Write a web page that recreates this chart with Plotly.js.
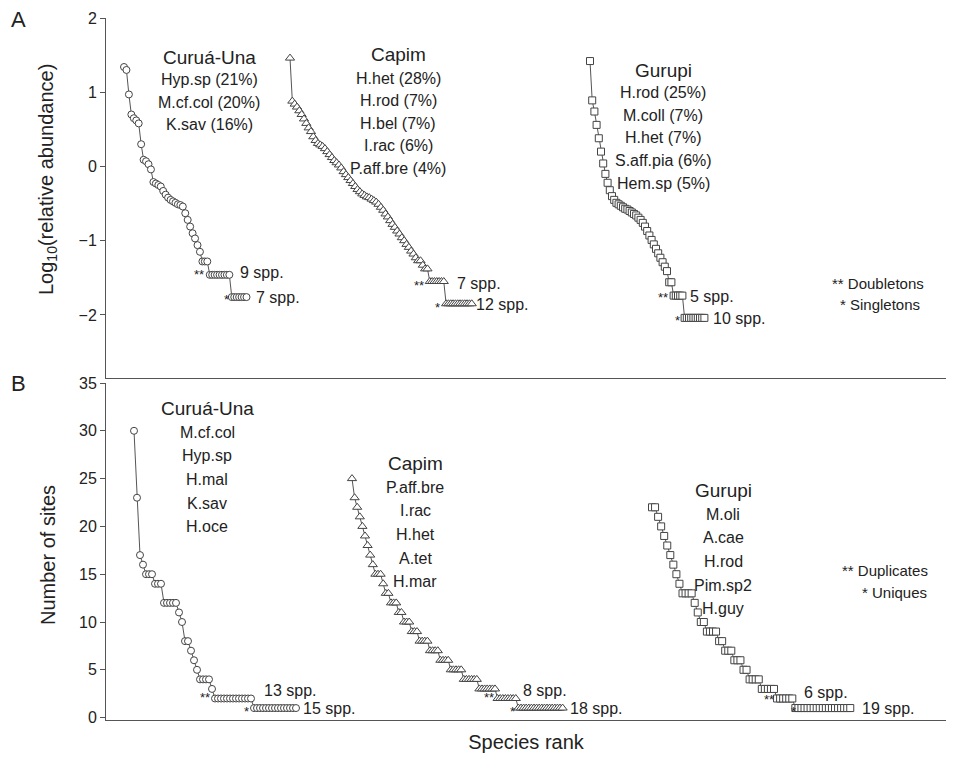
<!DOCTYPE html>
<html><head><meta charset="utf-8">
<script src="https://cdn.plot.ly/plotly-3.0.1.min.js"></script>
<style>body{margin:0;background:#fff}#c{width:956px;height:766px}</style>
</head><body><div id="c"></div>
<script>
// ---- Data: panel A, log10(relative abundance, %) by species rank ----
const abundCurua = [1.34,1.30,0.97,0.70,0.65,0.62,0.58,0.30,0.09,0.07,0.03,-0.04,-0.21,-0.23,-0.25,-0.27,-0.33,-0.38,-0.42,-0.45,-0.47,-0.49,-0.51,-0.52,-0.54,-0.63,-0.72,-0.81,-0.90,-0.97,-1.06,-1.15,-1.28,-1.28,-1.28,
  -1.46,-1.46,-1.46,-1.46,-1.46,-1.46,-1.46,-1.46,-1.46, -1.76,-1.76,-1.76,-1.76,-1.76,-1.76,-1.76];
const abundCapim = [1.46,0.88,0.84,0.80,0.75,0.70,0.64,0.58,0.52,0.47,0.40,0.35,0.31,0.29,0.27,0.24,0.20,0.16,0.12,0.08,0.05,0.02,-0.02,-0.07,-0.11,-0.15,-0.19,-0.23,-0.27,-0.31,-0.34,-0.37,-0.39,-0.41,-0.42,-0.44,-0.46,-0.48,-0.51,-0.55,-0.59,-0.64,-0.68,-0.73,-0.78,-0.82,-0.87,-0.91,-0.96,-1.00,-1.05,-1.09,-1.14,-1.18,-1.23,-1.27,-1.27,-1.33,-1.38,-1.38,
  -1.55,-1.55,-1.55,-1.55,-1.55,-1.55,-1.55, -1.85,-1.85,-1.85,-1.85,-1.85,-1.85,-1.85,-1.85,-1.85,-1.85,-1.85,-1.85];
const abundGurupi = [1.42,0.89,0.74,0.56,0.38,0.20,0.04,-0.10,-0.22,-0.32,-0.40,-0.45,-0.49,-0.51,-0.53,-0.55,-0.57,-0.58,-0.60,-0.62,-0.64,-0.66,-0.69,-0.72,-0.76,-0.81,-0.87,-0.93,-0.99,-1.05,-1.11,-1.17,-1.23,-1.29,-1.35,-1.41,-1.56,-1.56,
  -1.74,-1.74,-1.74,-1.74,-1.74, -2.04,-2.04,-2.04,-2.04,-2.04,-2.04,-2.04,-2.04,-2.04,-2.04];
// ---- Data: panel B, number of sites by species rank ----
const sitesCurua = [30,23,17,16,15,15,15,14,14,14,12,12,12,12,12,11,10,8,8,7,6,5,4,4,4,4,3,
  2,2,2,2,2,2,2,2,2,2,2,2,2, 1,1,1,1,1,1,1,1,1,1,1,1,1,1,1];
const sitesCapim = [25,23,22,21,20,19,18,17,16,15,15,15,14,13,13,12,12,12,11,11,10,10,10,9,9,9,8,8,8,8,7,7,7,7,6,6,6,6,5,5,5,5,5,4,4,4,4,4,4,3,3,3,3,3,3,3,
  2,2,2,2,2,2,2,2, 1,1,1,1,1,1,1,1,1,1,1,1,1,1,1,1,1,1];
const sitesGurupi = [22,22,21,20,19,18,17,16,15,14,13,13,13,13,12,11,10,10,9,9,9,9,8,8,7,7,7,6,6,6,5,5,4,4,4,4,3,3,3,3,3,
  2,2,2,2,2,2, 1,1,1,1,1,1,1,1,1,1,1,1,1,1,1,1,1,1,1];

const sites = ["Curuá-Una","Capim","Gurupi"];
const listA = [["Hyp.sp (21%)","M.cf.col (20%)","K.sav (16%)"],
               ["H.het (28%)","H.rod (7%)","H.bel (7%)","I.rac (6%)","P.aff.bre (4%)"],
               ["H.rod (25%)","M.coll (7%)","H.het (7%)","S.aff.pia (6%)","Hem.sp (5%)"]];
const listB = [["M.cf.col","Hyp.sp","H.mal","K.sav","H.oce"],
               ["P.aff.bre","I.rac","H.het","A.tet","H.mar"],
               ["M.oli","A.cae","H.rod","Pim.sp2","H.guy"]];
const doubA = [9,7,5], singA = [7,12,10];
const dupB = [13,8,6], uniqB = [15,18,19];

// ---- layout geometry (pixels) ----
const W=956,H=766,L=106,R=946,T=18,B=720;
const PW=R-L, PH=B-T;
const px = x => (x-L)/PW, py = y => (B-y)/PH;
const FONT = "Arial, 'Liberation Sans', sans-serif";
const INK = "#222", LINE="#555", MK="#444";

const rank = a => a.map((_,i)=>i+1);
// horizontal placement: [start px of rank 1, px per rank]
const placeA = [[124,2.45],[290,2.33],[590,2.2]];
const placeB = [[134,3.0],[352,2.6],[652,3.05]];
const symbols = ["circle","triangle-up","square"];
const msize = [7,8,7];
const dataA=[abundCurua,abundCapim,abundGurupi], dataB=[sitesCurua,sitesCapim,sitesGurupi];

function xr(start, sp){ const a = 1-(start-L)/sp; return [a, a+PW/sp]; }

const traces=[];
const layout = {
  width:W,height:H,margin:{l:L,r:W-R,t:T,b:H-B},
  paper_bgcolor:"#fff",plot_bgcolor:"#fff",showlegend:false,
  font:{family:FONT,color:INK,size:15},
  yaxis:{domain:[py(378),1],range:[-2.85,2],tickvals:[-2,-1,0,1,2],ticks:"outside",ticklen:5,tickcolor:LINE,
    showline:true,linecolor:LINE,linewidth:1,zeroline:false,showgrid:false,tickfont:{size:16}},
  yaxis2:{domain:[0,py(383)],range:[-0.25,35],dtick:5,ticks:"outside",ticklen:5,tickcolor:LINE,
    showline:true,linecolor:LINE,linewidth:1,zeroline:false,showgrid:false,tickfont:{size:16}},
  annotations:[], shapes:[]
};
for(let k=0;k<3;k++){
  const ida = k===0?"x":"x"+(k+1), idb="x"+(k+4);
  const keyA = k===0?"xaxis":"xaxis"+(k+1), keyB="xaxis"+(k+4);
  layout[keyA]={range:xr(...placeA[k]),anchor:"y",showgrid:false,zeroline:false,showticklabels:false,ticks:""};
  layout[keyB]={range:xr(...placeB[k]),anchor:"y2",showgrid:false,zeroline:false,showticklabels:false,ticks:""};
  if(k===0){
    Object.assign(layout[keyA],{showline:true,linecolor:LINE,linewidth:1});
    Object.assign(layout[keyB],{showline:true,linecolor:LINE,linewidth:1,
      title:{text:"Species rank",font:{size:20},standoff:14}});
  } else {
    Object.assign(layout[keyA],{overlaying:"x",visible:false});
    Object.assign(layout[keyB],{overlaying:"x4",visible:false});
  }
  traces.push({x:rank(dataA[k]),y:dataA[k],xaxis:ida,yaxis:"y",mode:"lines+markers",
    line:{color:LINE,width:1},marker:{symbol:symbols[k],size:msize[k],color:"#fff",line:{color:MK,width:1}}});
  traces.push({x:rank(dataB[k]),y:dataB[k],xaxis:idb,yaxis:"y2",mode:"lines+markers",
    line:{color:LINE,width:1},marker:{symbol:symbols[k],size:msize[k],color:"#fff",line:{color:MK,width:1}}});
}

function ann(x,y,text,size,xanchor,angle){
  layout.annotations.push({xref:"paper",yref:"paper",x:px(x),y:py(y),text:text,showarrow:false,
    textangle:angle||0,xanchor:xanchor||"center",yanchor:"middle",font:{size:size,color:INK,family:FONT}});
}
// axis titles
ann(48,180,"Log<sub>10</sub>(relative abundance)",20,"center",-90);
ann(48,555,"Number of sites",20,"center",-90);
// panel letters
ann(18,20,"A",22,"center"); ann(18,383,"B",22,"center");
// panel A site headers and dominant species
const hdrA=[[209,57],[398,55],[663,70]];
for(let k=0;k<3;k++){
  ann(hdrA[k][0],hdrA[k][1],sites[k],19);
  listA[k].forEach((s,i)=>ann(hdrA[k][0],hdrA[k][1]+23+22.5*i,s,16));
}
const hdrB=[[207,408],[415,463],[723,490]];
for(let k=0;k<3;k++){
  ann(hdrB[k][0],hdrB[k][1],sites[k],19);
  listB[k].forEach((s,i)=>ann(hdrB[k][0],hdrB[k][1]+24+23.7*i,s,16));
}
// doubleton / singleton labels, panel A: [star x, text x, y]
const dA=[[199,238,272],[419,455,283],[663,688,296]];
const sA=[[226,254,297],[437,474,305],[677,711,318]];
for(let k=0;k<3;k++){
  ann(dA[k][0],dA[k][2]+2,"**",13); ann(dA[k][1],dA[k][2],doubA[k]+" spp.",16,"left");
  ann(sA[k][0],sA[k][2]+2,"*",13); ann(sA[k][1],sA[k][2],singA[k]+" spp.",16,"left");
}
ann(830,283,"** Doubletons",15,"left"); ann(838,305,"* Singletons",15,"left");
// duplicate / unique labels, panel B
const dB=[[205,262,690],[489,521,690],[769,802,692]];
const uB=[[246,301,708],[512,568,708],[793,860,708]];
for(let k=0;k<3;k++){
  ann(dB[k][0],dB[k][2]+7,"**",13); ann(dB[k][1],dB[k][2],dupB[k]+" spp.",16,"left");
  ann(uB[k][0],uB[k][2]+3,"*",13); ann(uB[k][1],uB[k][2],uniqB[k]+" spp.",16,"left");
}
ann(840,570,"** Duplicates",15,"left"); ann(860,592,"* Uniques",15,"left");

Plotly.newPlot("c",traces,layout,{displayModeBar:false,staticPlot:true});
</script></body></html>
